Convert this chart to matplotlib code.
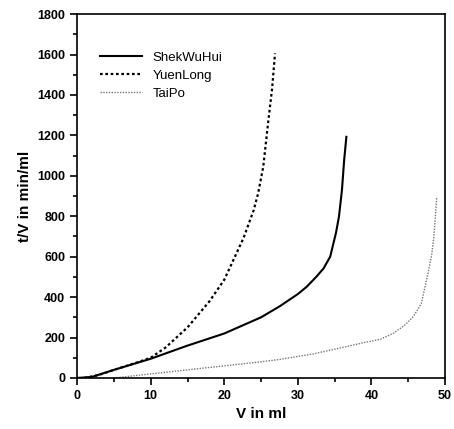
import numpy as np
import matplotlib.pyplot as plt
from matplotlib.ticker import MultipleLocator

plt.rcParams['font.family'] = ['Liberation Sans', 'DejaVu Sans']

# values
shek_v = [0, 2, 5, 10, 15, 20, 25, 27.6, 30, 31.2, 32.5, 33.5, 34.4, 34.8, 35.2, 35.6, 36.0, 36.3, 36.6]
shek_t = [0, 5, 40, 95, 160, 220, 300, 356, 415, 451, 500, 542, 600, 660, 720, 800, 930, 1078, 1193]

yuen_v = [1, 3, 5, 8, 10, 12, 15, 18, 20, 22.6, 24, 24.6, 25.3, 26.0, 26.5, 26.9]
yuen_t = [0, 15, 40, 75, 100, 150, 250, 380, 486, 691, 830, 913, 1045, 1276, 1430, 1606]

tai_v = [5, 10, 15, 20, 25, 27.6, 32.1, 36.6, 39, 41.2, 43.0, 44.5, 45.7, 46.8, 47.7, 48.2, 48.5, 48.9]
tai_t = [0, 20, 40, 60, 80, 92, 119, 155, 175, 191, 221, 260, 303, 369, 518, 610, 699, 897]

fig = plt.figure(figsize=(4.54, 4.29), dpi=100)
ax = fig.add_axes([0.170, 0.119, 0.810, 0.848])

ax.plot(shek_v, shek_t, color='black', lw=1.5, ls='-', label='ShekWuHui')
ax.plot(yuen_v, yuen_t, color='black', lw=1.6, ls=(0, (1.2, 1.2)), label='YuenLong')
ax.plot(tai_v, tai_t, color='#777777', lw=1.0, ls=(0, (1, 1)), label='TaiPo')

ax.set_xlim(0, 50)
ax.set_ylim(0, 1800)
ax.xaxis.set_major_locator(MultipleLocator(10))
ax.xaxis.set_minor_locator(MultipleLocator(5))
ax.yaxis.set_major_locator(MultipleLocator(200))
ax.yaxis.set_minor_locator(MultipleLocator(100))
ax.tick_params(which='both', direction='out', width=1.2)
ax.tick_params(which='major', length=5, labelsize=9)
ax.tick_params(which='minor', length=3)
for lab in ax.get_xticklabels() + ax.get_yticklabels():
    lab.set_fontweight('bold')
for s in ax.spines.values():
    s.set_linewidth(1.2)

ax.set_xlabel('V in ml', fontsize=11, fontweight='bold')
ax.set_ylabel('t/V in min/ml', fontsize=11, fontweight='bold')

ax.legend(loc='upper left', bbox_to_anchor=(0.03, 0.93), frameon=False,
          fontsize=9.5, handlelength=3.2, labelspacing=0.45)

fig.savefig('out.png', dpi=100)
